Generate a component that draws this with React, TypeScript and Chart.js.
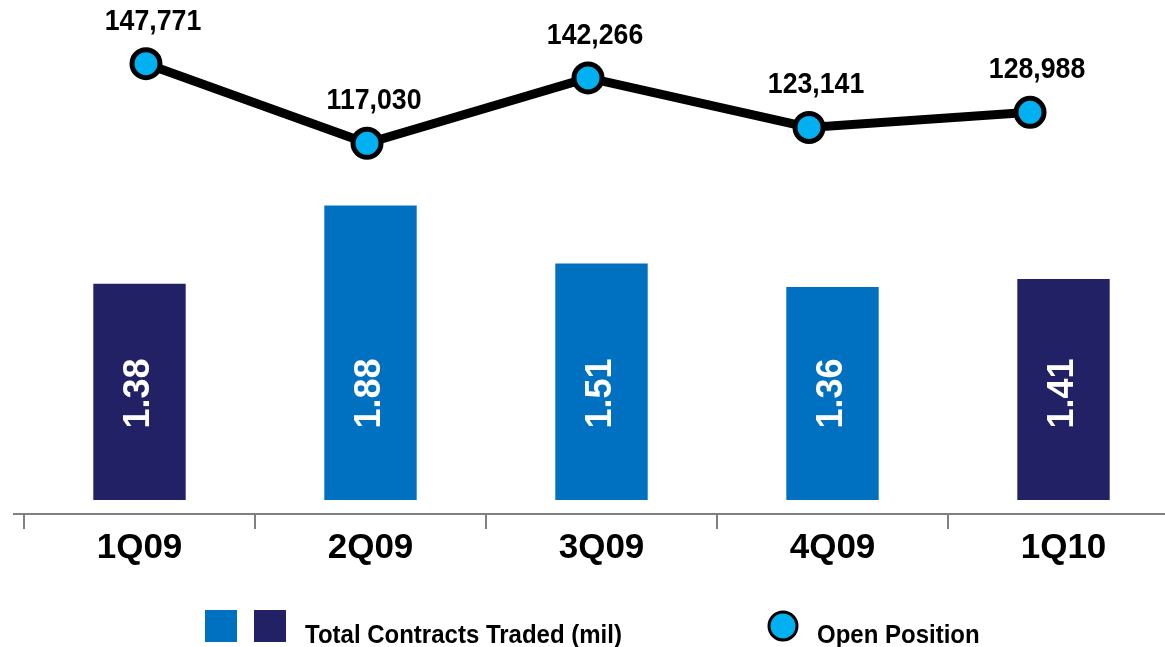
import { useEffect, useRef } from "react";
import { Chart, registerables } from "chart.js";

Chart.register(...registerables);

const categories = ["1Q09", "2Q09", "3Q09", "4Q09", "1Q10"];
const contractsTraded = [1.38, 1.88, 1.51, 1.36, 1.41];
const openPosition = [147771, 117030, 142266, 123141, 128988];
const barColors = ["#232166", "#0070C0", "#0070C0", "#0070C0", "#232166"];
const legendLabels = ["Total Contracts Traded (mil)", "Open Position"];

const FONT = "'Liberation Sans', Arial, sans-serif";
const NAVY = "#232166";
const BLUE = "#0070C0";
const CYAN = "#00B0F0";

const annotate = {
  id: "annotate",
  afterDraw(chart: any) {
    const ctx = chart.ctx as CanvasRenderingContext2D;
    const area = chart.chartArea;
    ctx.save();
    // axis line
    ctx.strokeStyle = "#808080";
    ctx.lineWidth = 2;
    ctx.beginPath();
    ctx.moveTo(area.left - 11, area.bottom);
    ctx.lineTo(chart.width, area.bottom);
    ctx.stroke();

    // bar labels (rotated, white)
    const yScale = chart.scales.y;
    const labelY = yScale.getPixelForValue(Math.min(...contractsTraded) / 2);
    const barMeta = chart.getDatasetMeta(0);
    ctx.fillStyle = "#ffffff";
    ctx.font = `bold 36px ${FONT}`;
    ctx.textAlign = "center";
    ctx.textBaseline = "middle";
    barMeta.data.forEach((bar: any, i: number) => {
      ctx.save();
      ctx.translate(bar.x, labelY);
      ctx.rotate(-Math.PI / 2);
      ctx.fillText(contractsTraded[i].toFixed(2), 0, 0);
      ctx.restore();
    });

    // point labels
    const lineMeta = chart.getDatasetMeta(1);
    ctx.fillStyle = "#000000";
    ctx.font = `bold 29px ${FONT}`;
    ctx.textBaseline = "alphabetic";
    lineMeta.data.forEach((pt: any, i: number) => {
      ctx.save();
      ctx.translate(pt.x + 7, pt.y - 34);
      ctx.scale(0.92, 1);
      ctx.fillText(openPosition[i].toLocaleString("en-US"), 0, 0);
      ctx.restore();
    });

    // legend
    ctx.fillStyle = BLUE;
    ctx.fillRect(205, 610, 32, 32);
    ctx.fillStyle = NAVY;
    ctx.fillRect(254, 610, 32, 32);
    ctx.beginPath();
    ctx.arc(783, 626, 14, 0, Math.PI * 2);
    ctx.fillStyle = CYAN;
    ctx.fill();
    ctx.lineWidth = 3;
    ctx.strokeStyle = "#000";
    ctx.stroke();
    ctx.fillStyle = "#000";
    ctx.font = `bold 25px ${FONT}`;
    ctx.textAlign = "left";
    ctx.textBaseline = "alphabetic";
    ctx.save();
    ctx.translate(305, 643);
    ctx.scale(0.96, 1);
    ctx.fillText(legendLabels[0], 0, 0);
    ctx.restore();
    ctx.save();
    ctx.translate(817, 643);
    ctx.scale(0.96, 1);
    ctx.fillText(legendLabels[1], 0, 0);
    ctx.restore();
    ctx.restore();
  },
};

export default function App() {
  const ref = useRef<HTMLCanvasElement>(null);
  useEffect(() => {
    if (!ref.current) return;
    const chart = new Chart(ref.current, {
      type: "bar",
      data: {
        labels: categories,
        datasets: [
          {
            type: "bar",
            label: legendLabels[0],
            data: contractsTraded,
            backgroundColor: barColors,
            xAxisID: "x",
            yAxisID: "y",
            barPercentage: 0.4,
            categoryPercentage: 1,
            grouped: false,
          } as any,
          {
            type: "line",
            label: legendLabels[1],
            data: openPosition.map((v, i) => ({ x: i, y: v })),
            xAxisID: "x2",
            yAxisID: "y2",
            borderColor: "#000",
            borderWidth: 9,
            pointRadius: 14,
            pointHoverRadius: 14,
            pointBorderWidth: 5,
            pointBackgroundColor: CYAN,
            pointBorderColor: "#000",
            tension: 0,
            clip: false,
          } as any,
        ],
      },
      options: {
        responsive: false,
        animation: false,
        events: [],
        layout: { autoPadding: false, padding: { left: 24, right: 0, top: 0, bottom: 80 } },
        plugins: { legend: { display: false }, tooltip: { enabled: false } },
        scales: {
          x: {
            type: "category",
            offset: true,
            grid: { offset: true, drawOnChartArea: false, tickLength: 15, color: "#808080", lineWidth: 2 },
            border: { display: false },
            ticks: { font: { family: FONT, size: 35, weight: "bold" }, color: "#000", padding: -2, maxRotation: 0, autoSkip: false },
          },
          x2: { type: "linear", display: false, offset: false, min: -0.552, max: 4.674 },
          y: { display: false, min: -0.0893, max: 3.1908 },
          y2: { display: false, min: -26100, max: 172355 },
        },
      } as any,
      plugins: [annotate],
    });
    return () => chart.destroy();
  }, []);
  return (
    <div style={{ position: "fixed", left: 0, top: 0, width: 1165, height: 647, overflow: "hidden", background: "#fff" }}>
      <canvas ref={ref} width={1179} height={647} style={{ display: "block" }} />
    </div>
  );
}
